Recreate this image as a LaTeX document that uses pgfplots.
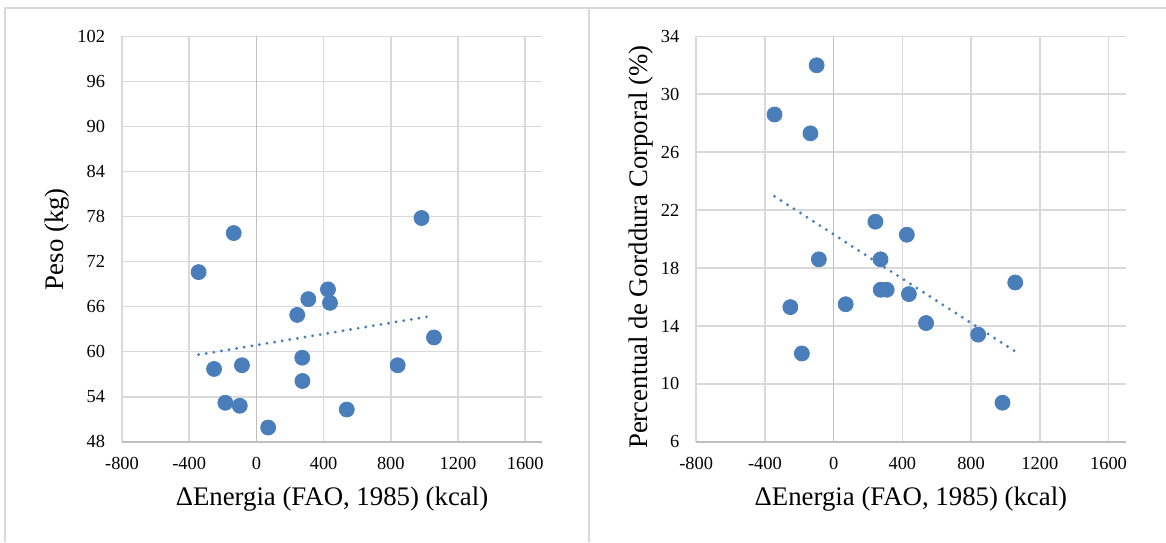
\documentclass[border=0pt]{standalone}
\usepackage{pgfplots}
\pgfplotsset{compat=1.18}
\usepackage{fontspec}
\setmainfont{Liberation Serif}
\definecolor{gridc}{HTML}{D9D9D9}
\definecolor{axisc}{HTML}{BFBFBF}
\definecolor{markc}{HTML}{4A7EBB}
\definecolor{framec}{HTML}{D9D9D9}
\pgfplotsset{
  excelstyle/.style={
    scale only axis,
    anchor=south west,
    height=202.75pt,
    xmin=-800, xmax=1700,
    xtick={-800,-400,0,400,800,1200,1600},
    grid=major,
    major grid style={color=gridc, line width=0.75pt},
    axis line style={draw=none},
    major tick length=0pt,
    /pgf/number format/assume math mode=true,
    /pgf/number format/1000 sep={},
    tick label style={font=\fontsize{9.2}{10.5}\selectfont},
    yticklabel style={inner sep=0pt, xshift=-8.3pt},
    xticklabel style={inner sep=0pt, yshift=-7.3pt},
    label style={font=\fontsize{13.4}{15}\selectfont},
    extra x ticks={0},
    extra x tick labels={},
    extra x tick style={major grid style={color=axisc, line width=0.75pt}},
    clip=false,
  },
  dots/.style={only marks, mark=*, mark size=3.75pt, mark options={fill=markc, draw=markc}},
  trend/.style={no marks, color=markc, line width=1.6pt, line cap=round, dash pattern=on 0pt off 3.85pt},
}
\begin{document}
\begin{tikzpicture}
\useasboundingbox (0,0) rectangle (583pt,-271pt);
\draw[color=framec, line width=1pt] (2.5pt,-271pt) -- (2.5pt,-3.75pt) -- (583pt,-3.75pt);
\draw[color=framec, line width=1pt] (294.5pt,-3.75pt) -- (294.5pt,-271pt);
% left
\begin{axis}[excelstyle,
  at={(61pt,-220.9pt)},
  width=210pt,
  ymin=48, ymax=102,
  ytick={48,54,60,66,72,78,84,90,96,102},
  extra y ticks={48}, extra y tick labels={},
  extra y tick style={major grid style={color=axisc, line width=1pt}},
  xlabel={ΔEnergia (FAO, 1985) (kcal)},
  ylabel={Peso (kg)},
  xlabel style={at={(axis description cs:0.5,-0.1423)}, anchor=center},
  ylabel style={at={(axis description cs:-0.1548,0.5)}, anchor=center},
]
\addplot[trend] coordinates {(-344,59.6) (1057,64.8)};
\addplot[dots] coordinates {
(-344,70.6) (-135,75.8) (-252,57.7) (-185,53.2) (-99,52.8) (-86,58.2)
(70,49.9) (243,64.9) (309,67.0) (426,68.3) (438,66.5) (273,59.2)
(274,56.1) (538,52.3) (841,58.2) (983,77.8) (1057,61.9)
};
\end{axis}
% right
\begin{axis}[excelstyle,
  at={(348.1pt,-220.9pt)},
  width=214.75pt,
  ymin=6, ymax=34,
  ytick={6,10,14,18,22,26,30,34},
  extra y ticks={6}, extra y tick labels={},
  extra y tick style={major grid style={color=axisc, line width=1pt}},
  xlabel={ΔEnergia (FAO, 1985) (kcal)},
  ylabel={Percentual de Gorddura Corporal (\%)},
  xlabel style={at={(axis description cs:0.5,-0.1423)}, anchor=center},
  ylabel style={at={(axis description cs:-0.1295,0.48)}, anchor=center},
]
\addplot[trend] coordinates {(-344,22.95) (1057,12.24)};
\addplot[dots] coordinates {
(-344,28.6) (-99,32.0) (-135,27.3) (-252,15.3) (-185,12.1) (-86,18.6)
(70,15.5) (243,21.2) (273,18.6) (274,16.5) (309,16.5) (426,20.3)
(438,16.2) (538,14.2) (841,13.4) (983,8.7) (1057,17.0)
};
\end{axis}
\end{tikzpicture}
\end{document}
